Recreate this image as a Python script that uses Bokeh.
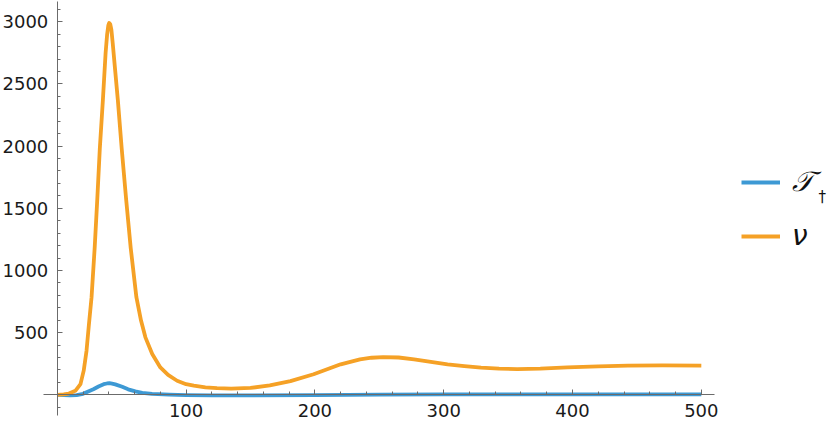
from bokeh.plotting import figure
from bokeh.models import Range1d, FixedTicker, Legend, LegendItem, Label
from bokeh.embed import file_html
from bokeh.resources import INLINE

# ---- data ----
nu_x = [0, 5, 9, 14, 18, 20.5, 22.7, 24.5, 26.6, 29, 31, 33, 35.4, 37.5, 38.7, 39.6, 40.3,
        41.1, 42, 43, 45, 47, 50, 53.5, 57, 61.4, 65, 68.4, 73.7, 80, 86, 93, 100, 106,
        115, 124, 135, 150, 165, 181, 199, 220, 235, 244, 253, 265, 277, 290, 303, 316,
        329, 343, 357, 375, 396, 420, 443, 470, 500]
nu_y = [0, 3, 10, 32, 86, 194, 355, 560, 785, 1180, 1565, 1980, 2371, 2750, 2900, 2970, 2990,
        2980, 2935, 2830, 2600, 2371, 1980, 1565, 1180, 785, 597, 462, 328, 220, 160, 113, 85, 73,
        60, 54, 50, 55, 75, 110, 165, 245, 285, 298, 303, 300, 285, 265, 245, 230,
        218, 210, 207, 210, 220, 228, 234, 236, 234]

t_x = [0, 5, 10, 15, 20, 24, 28, 32, 36, 38.5, 40.5, 42.5, 45, 50.4, 55, 60.6, 66, 73.6, 87, 100,
       120, 150, 200, 250, 300, 350, 400, 450, 500]
t_y = [0, -3, -4, -2, 8, 27, 45, 67, 85, 91, 93, 90, 84, 64, 44, 27, 16, 8, 2, -2,
       -4, -5, -3, 1, 3, 4, 4, 4, 4]

x_ticks = [100, 200, 300, 400, 500]
x_minor = list(range(0, 520, 20))
y_ticks = [500, 1000, 1500, 2000, 2500, 3000]
y_minor = list(range(-100, 3200, 100))
x_axis_extent = (-11, 510)
y_axis_extent = (-169, 3161)

series_labels = ["\U0001D4AF", "\u03BD"]
subscript_label = "\u2020"

BLUE = "#3d99d4"
ORANGE = "#f5a126"
AXIS = "#6b6b6b"

p = figure(width=838, height=426, output_backend="svg", toolbar_location=None,
           x_range=Range1d(-44.1, 606.5), y_range=Range1d(-255, 3171),
           min_border_left=0, min_border_right=0, min_border_top=0,
           min_border_bottom=0)
p.grid.visible = False
p.outline_line_color = None
p.background_fill_color = "white"

for ax in (p.xaxis[0], p.yaxis[0]):
    ax.fixed_location = 0
    ax.axis_line_color = AXIS
    ax.axis_line_width = 1
    ax.major_tick_line_color = AXIS
    ax.minor_tick_line_color = AXIS
    ax.major_tick_in = 5
    ax.major_tick_out = 0
    ax.minor_tick_in = 3
    ax.minor_tick_out = 0
    ax.major_label_text_font = "DejaVu Sans"
    ax.major_label_text_font_size = "18px"
    ax.major_label_text_color = "#1a1a1a"
    ax.major_label_standoff = 9

p.xaxis[0].bounds = x_axis_extent
p.yaxis[0].bounds = y_axis_extent
p.xaxis[0].ticker = FixedTicker(ticks=x_ticks, minor_ticks=x_minor)
p.yaxis[0].ticker = FixedTicker(ticks=y_ticks, minor_ticks=y_minor)

r_t = p.line(t_x, t_y, line_color=BLUE, line_width=3.8, line_join="round")
r_nu = p.line(nu_x, nu_y, line_color=ORANGE, line_width=3.8, line_join="round")

legend = Legend(items=[LegendItem(label=series_labels[0], renderers=[r_t]),
                       LegendItem(label=series_labels[1], renderers=[r_nu])],
                location=(741, 174))
legend.border_line_color = None
legend.background_fill_alpha = 0
legend.padding = 0
legend.margin = 0
legend.spacing = 20
legend.glyph_width = 39
legend.glyph_height = 30
legend.label_height = 30
legend.label_standoff = 12
legend.label_text_font = "DejaVu Sans"
legend.label_text_font_size = "28px"
legend.label_text_font_style = "italic"
legend.label_text_color = "#111111"
p.add_layout(legend, "center")

p.add_layout(Label(x=591.0, y=1590, text=subscript_label, text_font_size="15px",
                   text_baseline="middle", text_color="#111111", text_font="DejaVu Sans"))

open("out.html", "w").write(file_html(p, INLINE))
